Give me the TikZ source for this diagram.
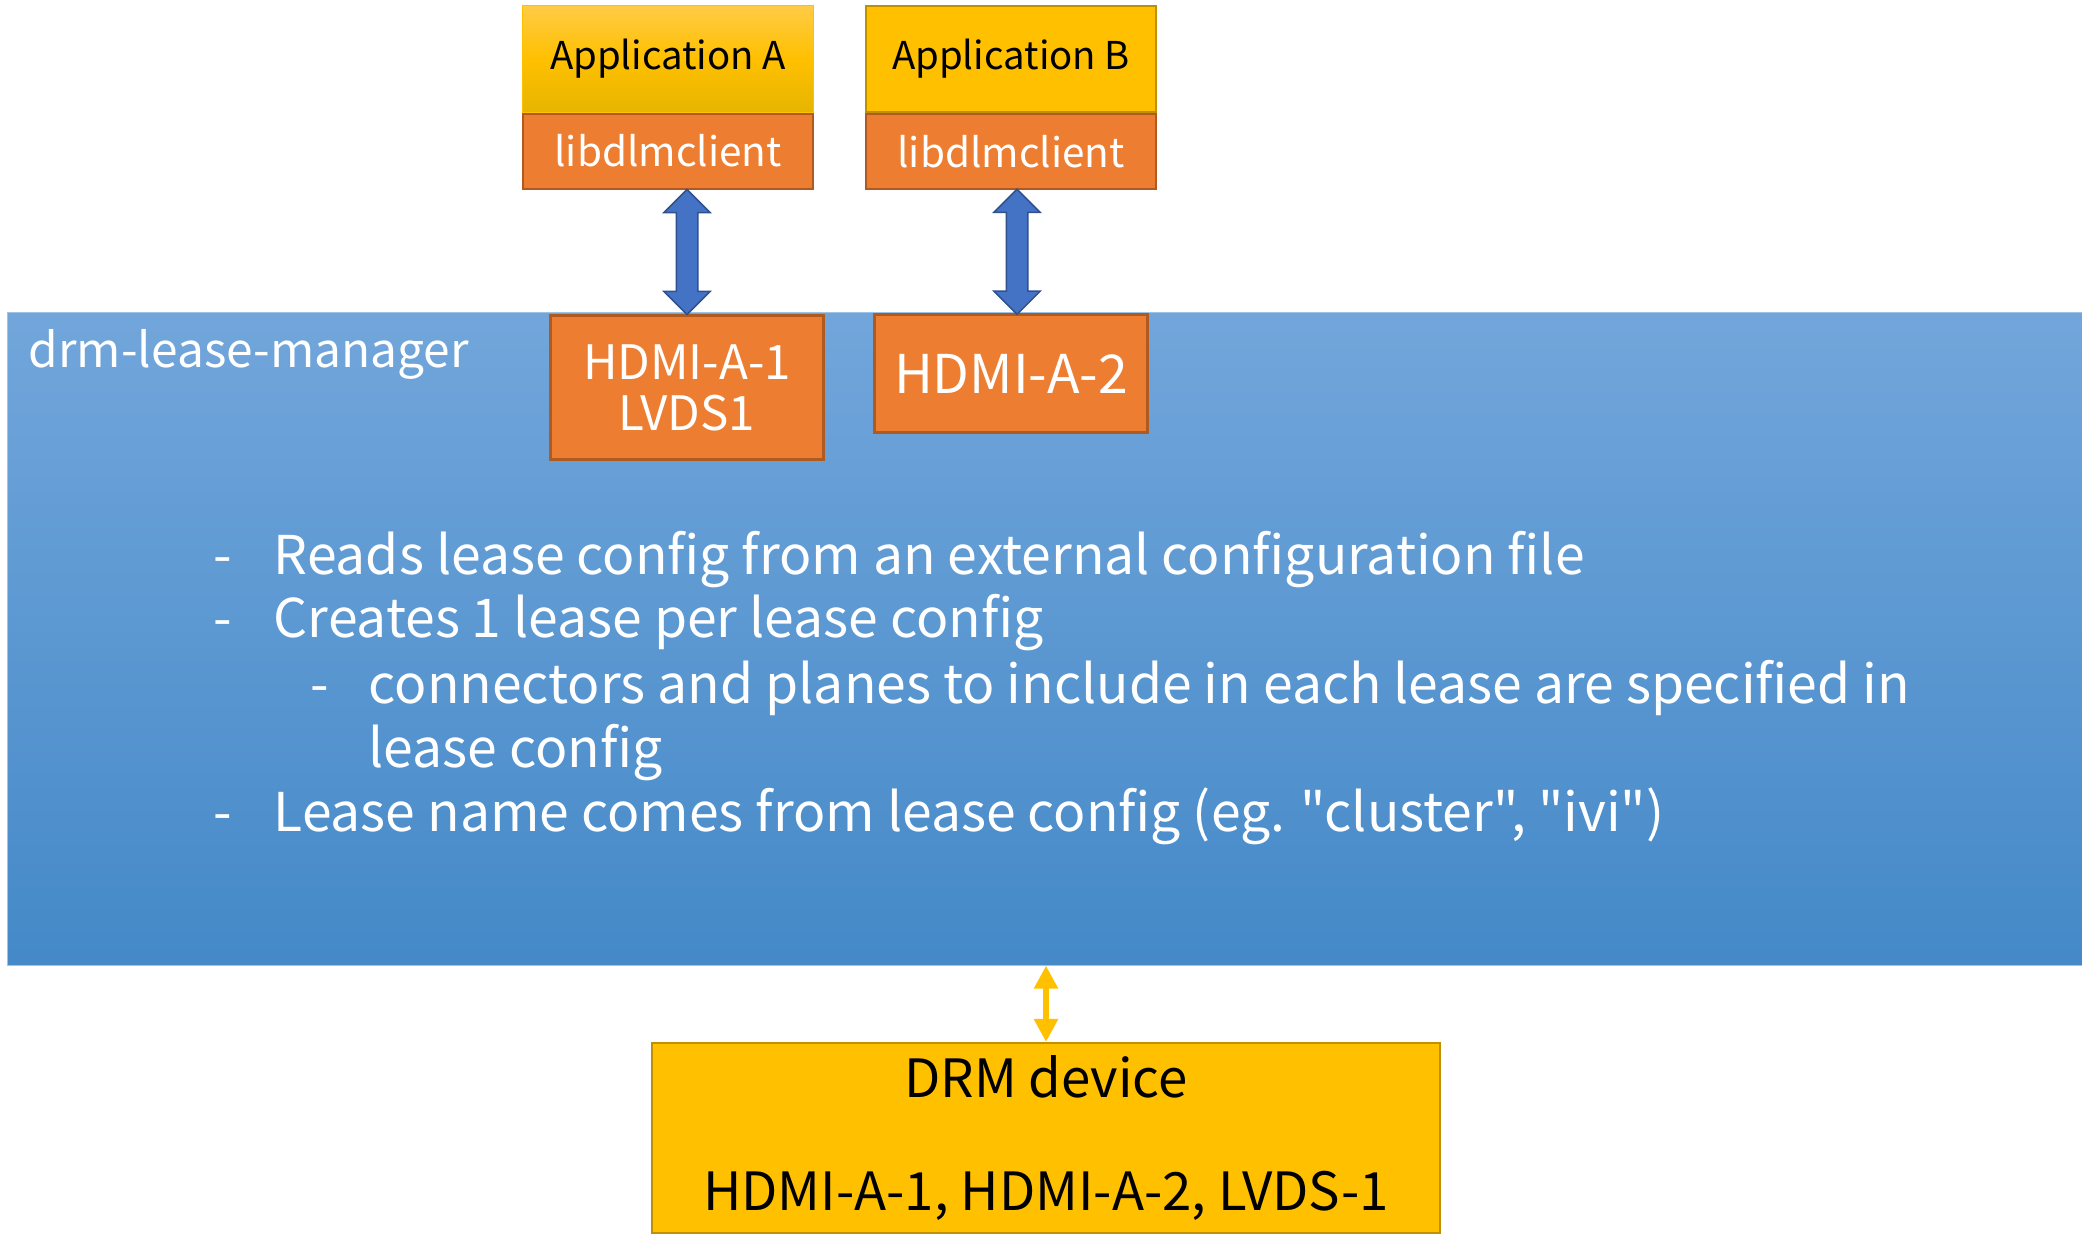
\documentclass[tikz,border=0pt]{standalone}
\usepackage{fontspec}
\setmainfont{Noto Sans CJK JP}[Ligatures=TeXOff]
\usetikzlibrary{positioning,calc,shapes.arrows,arrows.meta}

\definecolor{appyellow}{HTML}{FFC000}
\definecolor{appyellowdark}{HTML}{BF9000}
\definecolor{appAtop}{HTML}{FFCB45}
\definecolor{appAbottom}{HTML}{E6B500}
\definecolor{liborange}{HTML}{ED7D31}
\definecolor{liborangedark}{HTML}{AE5A21}
\definecolor{mgrtop}{HTML}{72A6DB}
\definecolor{mgrbottom}{HTML}{4489C8}
\definecolor{mgredge}{HTML}{9DC3E6}
\definecolor{arrowblue}{HTML}{4472C4}
\definecolor{arrowbluedark}{HTML}{2F528F}

\tikzset{
    box/.style={rectangle, inner sep=0pt, align=center},
    appbox/.style={box, minimum width=2.9cm, minimum height=1.06cm,
        font=\fontsize{10.9}{13}\selectfont},
    libbox/.style={box, fill=liborange, draw=liborangedark, line width=0.02cm,
        text=white, minimum width=2.9cm, minimum height=0.75cm,
        font=\fontsize{11.5}{14}\selectfont},
    leasebox/.style={box, fill=liborange, draw=liborangedark, line width=0.03cm,
        text=white},
    bullet/.style={anchor=base west, inner sep=0pt, text=white,
        font=\fontsize{15.2}{18}\selectfont},
    blockarrow/.style={double arrow, rotate=90, fill=arrowblue,
        draw=arrowbluedark, line width=0.015cm, inner xsep=0pt,
        inner ysep=0.1cm, minimum height=1.25cm,
        double arrow head extend=0.125cm},
    devarrow/.style={draw=appyellow, line width=0.06cm,
        {Triangle[width=0.23cm,length=0.23cm]}-{Triangle[width=0.23cm,length=0.23cm]}}
}

\begin{document}
\begin{tikzpicture}[x=0.01cm, y=-0.01cm]
    \useasboundingbox (0,0) rectangle (2082,1234);

    % applications
    \node[appbox, top color=appAtop, bottom color=appAbottom,
        middle color=appyellow, draw=appyellow, line width=0.01cm]
        (appA) at (668,59) {Application A};
    \node[libbox, below=0pt of appA] (libA) {libdlmclient};
    \node[appbox, fill=appyellow, draw=appyellowdark, line width=0.02cm]
        (appB) at (1011,59) {Application B};
    \node[libbox, below=0pt of appB] (libB) {libdlmclient};

    % lease manager
    \node[box, minimum width=20.74cm, minimum height=6.52cm,
        top color=mgrtop, bottom color=mgrbottom, draw=mgredge,
        line width=0.01cm] (mgr) at (1045,639) {};
    \node[anchor=base west, inner sep=0pt, text=white,
        font=\fontsize{13.6}{16}\selectfont] (mgrlabel) at (28,368)
        {drm-lease-manager};
    \node[leasebox, minimum width=2.72cm, minimum height=1.43cm,
        font=\fontsize{13.5}{14.5}\selectfont] (hdmiA) at (687,387.5)
        {HDMI-A-1\\LVDS1};
    \node[leasebox, minimum width=2.725cm, minimum height=1.17cm,
        font=\fontsize{15.2}{18}\selectfont] (hdmiB) at (1011,373.5)
        {HDMI-A-2};

    \node[blockarrow] (arrA) at ($(hdmiA.north |- libA.south)!0.5!(hdmiA.north)$) {};
    \node[blockarrow] (arrB) at ($(hdmiB.north |- libB.south)!0.5!(hdmiB.north) + (6,0)$) {};

    % list of duties
    \node[bullet] (dash1) at (213,575) {-};
    \node[bullet] (item1) at (273,575) {Reads lease config from an external configuration file};
    \node[bullet] (dash2) at (213,638) {-};
    \node[bullet] (item2) at (273,638) {Creates 1 lease per lease config};
    \node[bullet] (dash3) at (310,703) {-};
    \node[bullet] (item3) at (368,703) {connectors and planes to include in each lease are specified in};
    \node[bullet] (item3b) at (368,767) {lease config};
    \node[bullet] (dash4) at (213,831) {-};
    \node[bullet] (item4) at (273,831) {Lease name comes from lease config (eg. "cluster", "ivi")};

    % device
    \node[box, fill=appyellow, draw=appyellowdark, line width=0.02cm,
        minimum width=7.88cm, minimum height=1.9cm,
        font=\fontsize{15}{16.1}\selectfont] (drm) at (1046,1138)
        {DRM device\\[16pt]HDMI-A-1, HDMI-A-2, LVDS-1};

    \draw[devarrow] (drm.north |- mgr.south) -- (drm.north);
\end{tikzpicture}
\end{document}
